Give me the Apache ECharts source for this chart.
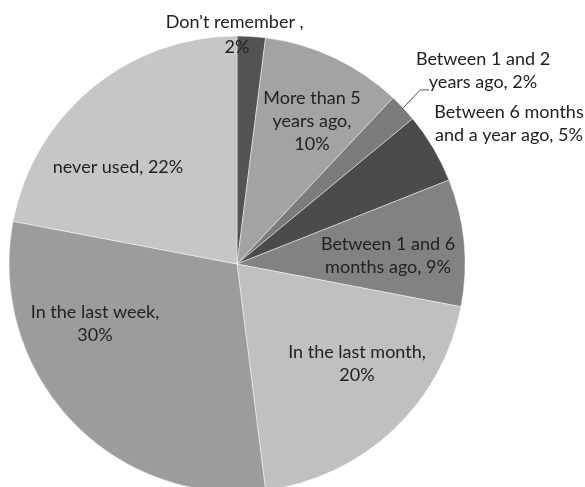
<!DOCTYPE html>
<html>
<head>
<meta charset="utf-8">
<script src="https://cdn.jsdelivr.net/npm/echarts@6/dist/echarts.min.js"></script>
<style>html,body{margin:0;padding:0;background:#fff;}#c{width:585px;height:487px;}</style>
</head>
<body>
<div id="c"></div>
<script>
const categories = ["Don't remember ,", "More than 5\nyears ago,", "Between 1 and 2\nyears ago,", "Between 6 months\nand a year ago,", "Between 1 and 6\nmonths ago,", "In the last month,", "In the last week,", "never used,"];
const values = [2, 10, 2, 5, 9, 20, 30, 22];
const valueLabels = ["2%", "10%", "2%", "5%", "9%", "20%", "30%", "22%"];
const colors = ["#535353", "#a3a3a3", "#7b7b7b", "#4b4b4b", "#828282", "#c0c0c0", "#9c9c9c", "#c6c6c6"];
// label block centres (layout only)
const labelPos = [[237, 35], [312, 121], [483, 71], [509, 124], [388, 256], [357, 364], [95, 324], [118, 167]];
const labelJoin = [" \n", "\n", " ", " ", " ", "\n", "\n", " "];

const chart = echarts.init(document.getElementById('c'), null, {renderer: 'canvas'});
chart.setOption({
  animation: false,
  series: [{
    type: 'pie',
    center: [237, 264],
    radius: [0, 228],
    startAngle: 90,
    clockwise: true,
    avoidLabelOverlap: false,
    data: categories.map((c, i) => ({
      name: c,
      value: values[i],
      itemStyle: {color: colors[i]},
      label: {position: i === 2 ? 'outside' : 'inside', lineHeight: i === 0 ? 25 : 23},
      labelLine: {show: i === 2}
    })),
    itemStyle: {borderColor: 'rgba(255,255,255,0.45)', borderWidth: 1},
    label: {
      show: true,
      formatter: p => p.name + labelJoin[p.dataIndex] + valueLabels[p.dataIndex],
      fontFamily: 'Lato',
      fontSize: 18,
      lineHeight: 23,
      color: '#222',
      align: 'center'
    },
    labelLine: {lineStyle: {color: '#555', width: 1}, length: 20, length2: 8},
    labelLayout: p => {
      const o = {
        x: labelPos[p.dataIndex][0],
        y: labelPos[p.dataIndex][1],
        align: 'center',
        verticalAlign: 'middle'
      };
      if (p.dataIndex === 2 && p.labelLinePoints) {
        const a = p.labelLinePoints[0];
        o.labelLinePoints = [a, [a[0] + 17, a[1] - 18], [a[0] + 26, a[1] - 18]];
      }
      return o;
    },
    emphasis: {disabled: true}
  }]
});
</script>
</body>
</html>
